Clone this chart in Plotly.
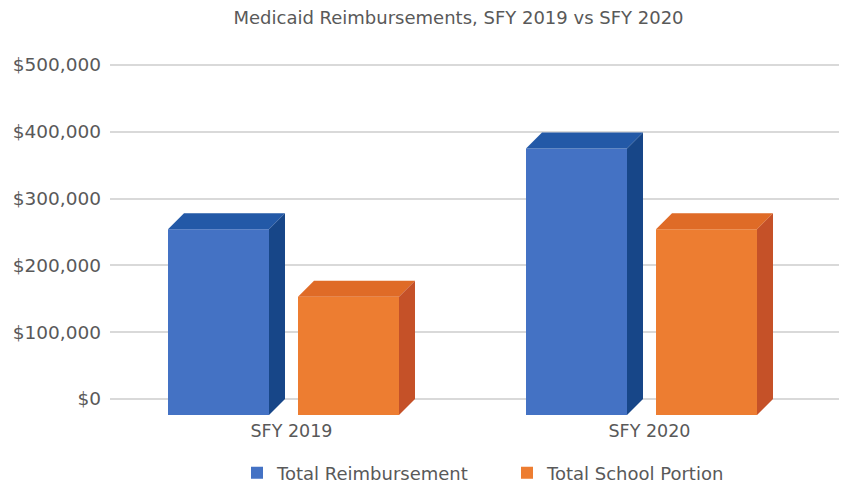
import plotly.graph_objects as go

# ---- data ----
categories = ["SFY 2019", "SFY 2020"]
series_names = ["Total Reimbursement", "Total School Portion"]
total_reimbursement = [278000, 399000]
school_portion = [177000, 278000]
y_tickvals = [0, 100000, 200000, 300000, 400000, 500000]
y_ticktext = ["$0", "$100,000", "$200,000", "$300,000", "$400,000", "$500,000"]

# ---- style / geometry (page has an 8px body margin) ----
PAGE_OFF = 8
W, H = 847 - PAGE_OFF, 484 - PAGE_OFF
M_L, M_R, M_T, M_B = 110 - PAGE_OFF, 0, 55 - PAGE_OFF, 68
PX_PER_CAT = 358.0
PX_PER_VAL = 334.0 / 500000.0
zero_px_from_top = 399 - PAGE_OFF
bar_w = 101 / PX_PER_CAT
half_gap = 14.5 / PX_PER_CAT
dx = 16 / PX_PER_CAT
dy = 16 / PX_PER_VAL

front_cols = ["#4472C4", "#ED7D31"]
top_cols = ["#2359A7", "#DF6B27"]
side_cols = ["#174688", "#C55128"]
font_fam = "DejaVu Sans"
txt_col = "#595959"

plot_h = H - M_T - M_B
y_min = -((M_T + plot_h) - zero_px_from_top) / PX_PER_VAL
y_max = (zero_px_from_top - M_T) / PX_PER_VAL
x_first_center_px = 291.5 - PAGE_OFF
x_min = -(x_first_center_px - M_L) / PX_PER_CAT
x_max = x_min + (W - M_L - M_R) / PX_PER_CAT

fig = go.Figure()
all_series = [total_reimbursement, school_portion]
offsets = [-(half_gap + bar_w / 2), (half_gap + bar_w / 2)]

for s, (name, vals) in enumerate(zip(series_names, all_series)):
    centers = [i + offsets[s] for i in range(len(categories))]
    # front faces
    fig.add_trace(go.Bar(
        x=[c - dx / 2 for c in centers], y=vals, base=[-dy] * len(vals),
        width=[bar_w] * len(vals), name=name,
        marker=dict(color=front_cols[s], line=dict(width=0)),
        showlegend=True, hoverinfo="skip"))
    tx, ty, sx, sy = [], [], [], []
    for c, v in zip(centers, vals):
        fl, fr = c - bar_w / 2 - dx / 2, c + bar_w / 2 - dx / 2
        bl, br = c - bar_w / 2 + dx / 2, c + bar_w / 2 + dx / 2
        tx += [fl, fr, br, bl, fl, None]
        ty += [v - dy, v - dy, v, v, v - dy, None]
        sx += [fr, br, br, fr, fr, None]
        sy += [v - dy, v, 0, -dy, v - dy, None]
    fig.add_trace(go.Scatter(x=tx, y=ty, fill="toself", fillcolor=top_cols[s],
                             mode="lines", line=dict(width=0, color=top_cols[s]),
                             showlegend=False, hoverinfo="skip"))
    fig.add_trace(go.Scatter(x=sx, y=sy, fill="toself", fillcolor=side_cols[s],
                             mode="lines", line=dict(width=0, color=side_cols[s]),
                             showlegend=False, hoverinfo="skip"))

fig.update_layout(
    width=W, height=H,
    margin=dict(l=M_L, r=M_R, t=M_T, b=M_B, pad=0),
    paper_bgcolor="white", plot_bgcolor="white",
    barmode="overlay",
    font=dict(family=font_fam, color=txt_col, size=17),
    title=dict(text="Medicaid Reimbursements, SFY 2019 vs SFY 2020",
               x=(458.5 - PAGE_OFF) / W, xanchor="center",
               y=1 - (18 - PAGE_OFF) / H, yanchor="middle",
               xref="container", yref="container",
               font=dict(size=18, color=txt_col, family=font_fam)),
    xaxis=dict(range=[x_min, x_max], tickvals=list(range(len(categories))),
               ticktext=categories, showgrid=False, zeroline=False,
               showline=False, ticks="", tickfont=dict(size=17.5),
               ticklabelstandoff=2, fixedrange=True),
    yaxis=dict(range=[y_min, y_max], tickvals=y_tickvals, ticktext=y_ticktext,
               showgrid=True, gridcolor="#D9D9D9", gridwidth=1.5,
               zeroline=False, showline=False, ticks="",
               tickfont=dict(size=18.5), ticklabelstandoff=8, fixedrange=True),
    legend=dict(orientation="h", xref="container", yref="container",
                x=(507 - PAGE_OFF) / W, xanchor="center",
                y=1 - (473 - PAGE_OFF) / H, yanchor="middle",
                font=dict(size=18), itemwidth=30, entrywidth=225,
                bgcolor="rgba(0,0,0,0)"),
)

fig.write_html("out.html")
